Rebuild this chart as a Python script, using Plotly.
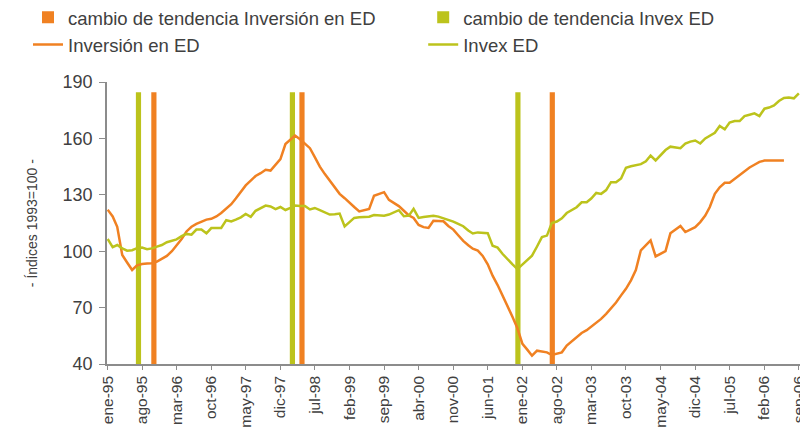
import pandas as pd
import plotly.graph_objects as go

# monthly index values, 1993=100, from ene-95
inversion_ed = [
    122.1, 118.5, 113.0, 98.0, 94.0, 90.0, 92.5, 93.2, 93.4, 93.6,
    94.5, 96.2, 97.5, 100.0, 103.0, 106.5, 110.5, 113.0, 114.5, 115.8,
    116.8, 117.2, 118.5, 120.3, 122.5, 125.0, 128.0, 131.5, 135.0, 137.5,
    140.0, 141.5, 143.3, 142.9, 146.0, 149.0, 157.0, 159.5, 161.5, 159.5,
    157.0, 154.8, 150.0, 145.0, 141.0, 137.5, 133.5, 130.5, 128.2, 126.0,
    123.5, 121.2, 121.8, 122.5, 129.5, 130.5, 131.4, 127.3, 125.8, 124.0,
    121.5, 119.0, 117.7, 114.0, 112.8, 112.4, 116.2, 116.0, 115.9, 113.4,
    111.5, 108.5, 105.5, 103.2, 101.3, 100.3, 97.5, 93.0, 87.0, 82.0,
    76.5, 71.0, 65.0, 59.0, 50.7, 47.5, 44.4, 47.1, 46.7, 46.2,
    44.8, 45.3, 46.2, 49.8, 52.2, 54.5, 56.5, 58.0, 59.8, 61.8,
    64.0, 66.7, 69.5, 72.7, 76.5, 80.0, 84.5, 90.0, 100.5, 103.0,
    105.8, 97.2, 98.5, 100.0, 109.5, 111.5, 113.4, 110.2, 111.5, 112.8,
    115.5, 119.0, 123.5, 130.5, 134.0, 136.4, 136.4, 138.5, 140.8, 142.8,
    144.5, 146.0, 147.5, 148.2, 148.4, 148.3, 148.3, 148.3,
]
invex_ed = [
    106.5, 102.2, 103.3, 101.5, 100.3, 100.5, 101.6, 101.9, 101.1, 101.5,
    102.4, 103.3, 104.8, 105.6, 106.3, 108.0, 109.2, 108.8, 111.5, 111.5,
    109.5, 112.3, 112.4, 112.4, 116.5, 115.8, 116.8, 118.0, 119.8, 118.3,
    121.5, 123.0, 124.3, 123.8, 122.4, 123.5, 121.9, 123.0, 124.3, 124.0,
    124.0, 122.2, 123.0, 121.8, 120.5, 119.5, 119.7, 120.0, 113.2, 115.5,
    117.7, 118.0, 118.1, 118.3, 119.2, 119.2, 118.9, 119.5, 120.5, 121.8,
    118.6, 118.9, 122.5, 117.7, 118.2, 118.6, 118.9, 118.4, 117.6, 116.9,
    115.7, 114.5, 113.3, 111.0, 109.4, 110.0, 109.9, 109.6, 102.9, 101.9,
    98.5, 95.6, 93.0, 90.5, 93.0, 95.8, 97.6, 102.5, 107.5, 108.3,
    115.0, 115.8, 117.5, 120.3, 122.0, 123.4, 126.0, 126.0, 128.0, 131.0,
    130.5, 132.5, 136.7, 136.7, 138.7, 144.4, 145.2, 145.6, 146.3, 147.8,
    150.9, 148.3, 150.9, 153.8, 155.6, 155.1, 154.8, 157.2, 158.3, 158.9,
    157.3, 160.0, 161.5, 163.0, 166.6, 164.8, 168.4, 169.2, 169.2, 171.9,
    172.6, 173.3, 171.9, 175.8, 176.4, 177.5, 179.9, 181.5, 181.7, 181.3,
    184.0,
]

# trend-change markers
cambio_inversion_fechas = ["1995-10-13", "1998-04-13", "2002-07-04"]
cambio_inversion_valor = [184.5, 184.5, 184.5]
cambio_invex_fechas = ["1995-07-10", "1998-02-13", "2001-12-04"]
cambio_invex_valor = [184.5, 184.5, 184.5]

tick_labels = [
    "ene-95", "ago-95", "mar-96", "oct-96", "may-97", "dic-97", "jul-98",
    "feb-99", "sep-99", "abr-00", "nov-00", "jun-01", "ene-02", "ago-02",
    "mar-03", "oct-03", "may-04", "dic-04", "jul-05", "feb-06", "sep-06",
]

fechas_inv = pd.date_range("1995-01-01", periods=len(inversion_ed), freq="MS")
fechas_invex = pd.date_range("1995-01-01", periods=len(invex_ed), freq="MS")
tick_vals = pd.date_range("1995-01-01", periods=len(tick_labels), freq="7MS")

naranja = "#F08122"
verde = "#BCC31C"
bar_w = 32 * 24 * 3600 * 1000

fig = go.Figure()
fig.add_trace(go.Bar(x=cambio_inversion_fechas, y=cambio_inversion_valor, width=bar_w,
                     marker_color=naranja, marker_line_width=0, legend="legend",
                     name="cambio de tendencia Inversión en ED"))
fig.add_trace(go.Bar(x=cambio_invex_fechas, y=cambio_invex_valor, width=bar_w,
                     marker_color=verde, marker_line_width=0, legend="legend2",
                     name="cambio de tendencia Invex ED"))
fig.add_trace(go.Scatter(x=fechas_inv, y=inversion_ed, mode="lines", legend="legend",
                         line=dict(color=naranja, width=2.5), name="Inversión en ED"))
fig.add_trace(go.Scatter(x=fechas_invex, y=invex_ed, mode="lines", legend="legend2",
                         line=dict(color=verde, width=2.5), name="Invex ED"))

# page body adds an 8px offset, so the figure is 800x420
leg = dict(
    orientation="v", xref="container", yref="paper",
    y=1.295, xanchor="left", yanchor="top",
    font=dict(size=18.5), traceorder="normal", itemwidth=30,
    bgcolor="rgba(0,0,0,0)",
)

fig.update_layout(
    width=800, height=420,
    margin=dict(l=99, r=8, t=74, b=64, autoexpand=False),
    paper_bgcolor="white", plot_bgcolor="white",
    font=dict(family="Arial, Liberation Sans, sans-serif", color="#404040"),
    barmode="overlay",
    showlegend=True,
    legend=dict(leg, x=0.025),
    legend2=dict(leg, x=0.519),
)
fig.add_annotation(
    text="- Índices 1993=100 -", textangle=-90, showarrow=False,
    xref="paper", yref="paper", x=-0.108, y=0.5, xanchor="center", yanchor="middle",
    font=dict(size=14, color="#404040"),
)
fig.update_xaxes(
    type="date", range=["1994-12-28", "2006-09-08"],
    tickvals=tick_vals, ticktext=tick_labels, tickangle=-90,
    tickfont=dict(size=15.5), ticks="outside", ticklen=4, tickcolor="#8c8c8c",
    showline=True, linecolor="#8c8c8c", linewidth=1.5, showgrid=False, zeroline=False,
)
fig.update_yaxes(
    range=[40, 190], tickvals=[40, 70, 100, 130, 160, 190],
    tickfont=dict(size=18), ticks="outside", ticklen=6, tickcolor="#8c8c8c",
    ticklabelstandoff=3,
    showline=True, linecolor="#8c8c8c", linewidth=1.5, showgrid=False, zeroline=False,
)

fig.write_html("out.html")
